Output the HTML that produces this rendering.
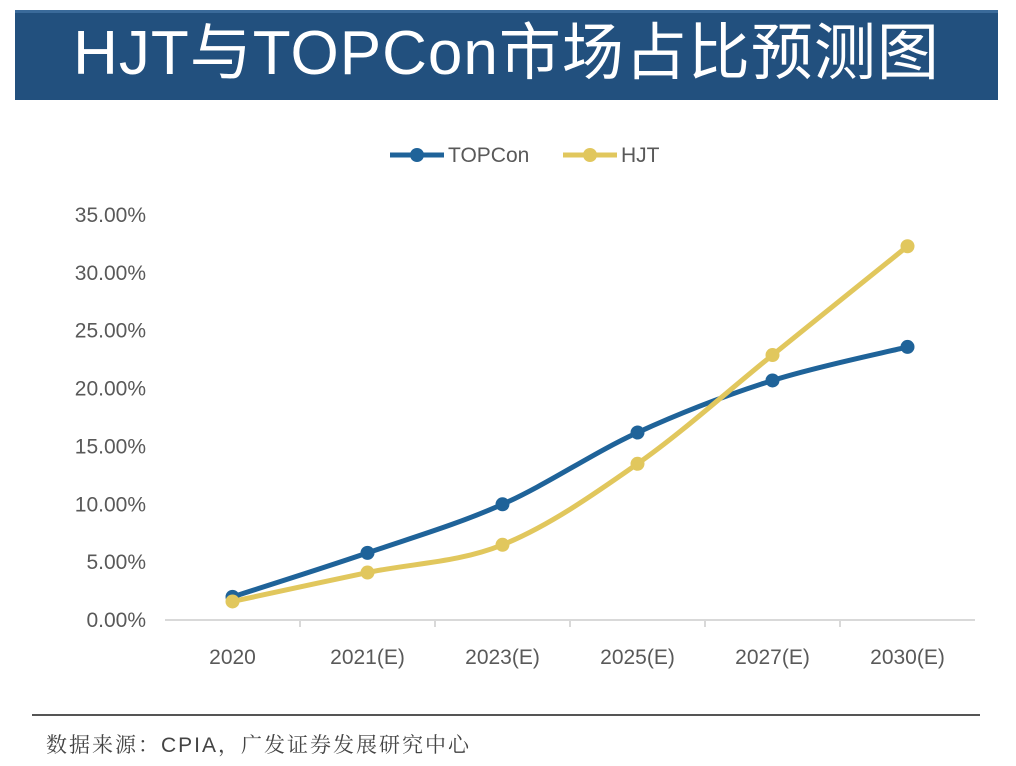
<!DOCTYPE html>
<html><head><meta charset="utf-8">
<style>
body{margin:0;background:#fff;width:1016px;height:766px;overflow:hidden;font-family:"Liberation Sans","Noto Sans CJK SC",sans-serif;}
#banner{position:absolute;left:15px;top:10px;width:983px;height:90px;background:#22507e;border-top:3px solid #3a6a9a;box-sizing:border-box;color:#fff;font-size:62px;text-align:center;line-height:82px;font-family:"Liberation Sans","Noto Sans CJK SC",sans-serif;letter-spacing:1px;}
#src-line{position:absolute;left:32px;top:714px;width:948px;height:2px;background:#555;}
#source{position:absolute;left:46px;top:729px;font-size:21px;letter-spacing:2px;color:#444;font-family:"Liberation Sans","Noto Serif CJK SC",serif;}
svg{position:absolute;left:0;top:0}
</style></head><body>
<div id="banner">HJT与TOPCon市场占比预测图</div>
<svg id="chart" width="1016" height="766"></svg>
<div id="src-line"></div>
<div id="source">数据来源：CPIA，广发证券发展研究中心</div>
<script>
const categories=["2020","2021(E)","2023(E)","2025(E)","2027(E)","2030(E)"];
const topcon=[2.0,5.8,10.0,16.2,20.7,23.6];
const hjt=[1.6,4.1,6.5,13.5,22.9,32.3];
const yTicks=[0,5,10,15,20,25,30,35];
const yTickLabels=["0.00%","5.00%","10.00%","15.00%","20.00%","25.00%","30.00%","35.00%"];
const NS="http://www.w3.org/2000/svg";
const svg=document.getElementById('chart');
const x0=165,band=135,yBase=620,pxPer=(620-215)/35;
const xs=i=>x0+band*(i+0.5);
const ys=v=>yBase-v*pxPer;
function mk(t,a){const e=document.createElementNS(NS,t);for(const k in a)e.setAttribute(k,a[k]);svg.appendChild(e);return e;}
const ax=mk('line',{x1:x0,x2:x0+band*6,y1:yBase,y2:yBase,stroke:'#d9d9d9','stroke-width':2});


for(let i=1;i<6;i++){const t=mk('line',{x1:x0+band*i,x2:x0+band*i,y1:yBase,y2:yBase+7,stroke:'#d9d9d9','stroke-width':2});

}
yTicks.forEach((v,i)=>{const t=mk('text',{x:146,y:ys(v)+7,'text-anchor':'end','font-size':21,fill:'#595959'});t.textContent=yTickLabels[i];

});
categories.forEach((c,i)=>{const t=mk('text',{x:xs(i),y:664,'text-anchor':'middle','font-size':21,fill:'#595959'});t.textContent=c;

});
function path(vals){const p=vals.map((v,i)=>[xs(i),ys(v)]);let d=`M${p[0][0]},${p[0][1]}`;
for(let i=0;i<p.length-1;i++){const a=p[Math.max(i-1,0)],b=p[i],c=p[i+1],e=p[Math.min(i+2,p.length-1)];const k=1/6;
d+=` C${b[0]+(c[0]-a[0])*k},${b[1]+(c[1]-a[1])*k} ${c[0]-(e[0]-b[0])*k},${c[1]-(e[1]-b[1])*k} ${c[0]},${c[1]}`;}return d;}
function series(vals,color,name){const l=mk('path',{d:path(vals),fill:'none',stroke:color,'stroke-width':5,'stroke-linejoin':'round'});


vals.forEach((v,i)=>{const c=mk('circle',{cx:xs(i),cy:ys(v),r:7,fill:color});

});}
series(topcon,'#1f6399','topcon');
series(hjt,'#e1c75d','hjt');
function leg(x,color,label,name){const l=mk('line',{x1:x,x2:x+54,y1:155,y2:155,stroke:color,'stroke-width':5});


const c=mk('circle',{cx:x+27,cy:155,r:7,fill:color});


const t=mk('text',{x:x+58,y:162,'font-size':21,fill:'#595959'});t.textContent=label;

}
leg(390,'#1f6399','TOPCon','topcon');
leg(563,'#e1c75d','HJT','hjt');
</script>
</body></html>
